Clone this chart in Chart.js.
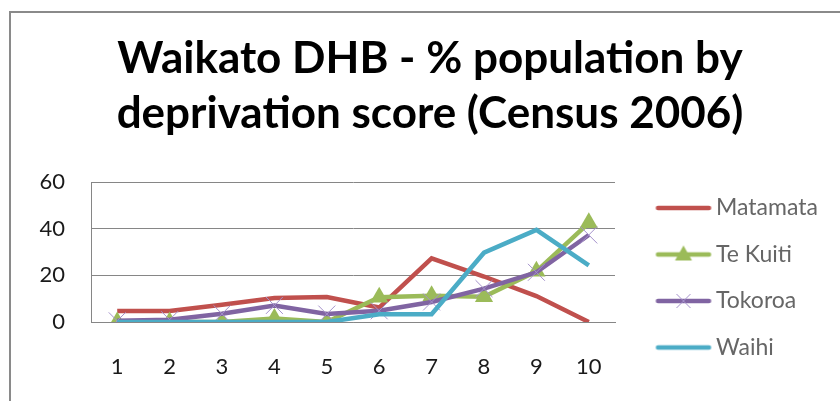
<!DOCTYPE html>
<html>
<head>
<meta charset="utf-8">
<script src="https://cdn.jsdelivr.net/npm/chart.js@4.4.1/dist/chart.umd.min.js"></script>
<style>
  html, body { margin: 0; padding: 0; background: #fff; }
  #wrap { position: relative; width: 840px; height: 401px; overflow: hidden; }
  #frame { position: absolute; left: 9px; top: 11px; width: 900px; height: 500px;
           border-left: 2px solid #8a8a8a; border-top: 2px solid #8a8a8a; }
  canvas { position: absolute; left: 0; top: 0; }
</style>
</head>
<body>
<div id="wrap">
  <div id="frame"></div>
  <canvas id="c" width="840" height="401"></canvas>
</div>
<script>
const categories = ['1','2','3','4','5','6','7','8','9','10'];
const matamata = [4.7, 4.7, 7.4, 10.3, 10.7, 6.2, 27.3, 19.5, 11.1, 0];
const teKuiti  = [0, 0, 0, 1.5, 0, 10.6, 11.3, 10.8, 21.7, 42.5];
const tokoroa  = [0.5, 1, 3.5, 7.1, 3.4, 4.8, 8.6, 14.3, 21.3, 37.3];
const waihi    = [0, 0, 0, 0, 0, 3.3, 3.3, 29.7, 39.5, 24.3];
const seriesNames = ['Matamata', 'Te Kuiti', 'Tokoroa', 'Waihi'];
const yTicks = [0, 20, 40, 60];
const titleLines = ['Waikato DHB - % population by', 'deprivation score (Census 2006)'];

const colors = ['#C0504D', '#9BBB59', '#8064A2', '#4BACC6'];
const crossColor = '#A491CB';
const FONT = 'Lato, "Liberation Sans", sans-serif';

// legend geometry
const LEG_FONT = 23, LEG_PAD = 23.5, LEG_W = 66, IMG_W = 82, IMG_H = 24;
const LINE_X0 = 25.5, LINE_X1 = 80.5;
const LEGEND_BOX_WIDTH = 225;

function legendImage(color, marker) {
  const c = document.createElement('canvas');
  c.width = IMG_W; c.height = IMG_H;
  const x = c.getContext('2d');
  const cy = IMG_H / 2, cx = (LINE_X0 + LINE_X1) / 2;
  x.strokeStyle = color; x.lineWidth = 4.5; x.lineCap = 'round';
  x.beginPath(); x.moveTo(LINE_X0 + 2, cy); x.lineTo(LINE_X1 - 2, cy); x.stroke();
  if (marker === 'triangle') {
    x.fillStyle = color;
    x.beginPath(); x.moveTo(cx, cy - 9); x.lineTo(cx + 8.5, cy + 6); x.lineTo(cx - 8.5, cy + 6); x.closePath(); x.fill();
  } else if (marker === 'cross') {
    x.strokeStyle = crossColor; x.lineWidth = 1; x.lineCap = 'butt';
    x.beginPath(); x.moveTo(cx - 7, cy - 7); x.lineTo(cx + 7, cy + 7); x.moveTo(cx + 7, cy - 7); x.lineTo(cx - 7, cy + 7); x.stroke();
  }
  return c;
}
const legendMarkers = [null, 'triangle', 'cross', null];

// fix the legend column width so the plot's right edge lands where wanted
const legendWidthPlugin = {
  id: 'legendWidth',
  beforeLayout(chart) {
    const lg = chart.legend;
    if (lg && !lg._fixedWidth) {
      const origFit = lg.fit;
      lg.fit = function () { origFit.call(this); this.width = LEGEND_BOX_WIDTH; };
      lg._fixedWidth = true;
    }
  }
};

const datasets = [
  { label: seriesNames[0], data: matamata, borderColor: colors[0], backgroundColor: colors[0],
    pointRadius: 0, order: 4 },
  { label: seriesNames[1], data: teKuiti, borderColor: colors[1], backgroundColor: colors[1],
    pointStyle: 'triangle', pointRadius: 10.5, pointBorderWidth: 0, pointBorderColor: colors[1], order: 3 },
  { label: seriesNames[2], data: tokoroa, borderColor: colors[2], backgroundColor: 'rgba(0,0,0,0)',
    pointStyle: 'crossRot', pointRadius: 12, pointBorderWidth: 1, pointBorderColor: crossColor, order: 2 },
  { label: seriesNames[3], data: waihi, borderColor: colors[3], backgroundColor: colors[3],
    pointRadius: 0, order: 1 }
];
datasets.forEach(d => { d.borderWidth = 4.5; d.tension = 0; d.fill = false; d.pointHoverRadius = d.pointRadius; });

new Chart(document.getElementById('c'), {
  type: 'line',
  data: { labels: categories, datasets },
  plugins: [legendWidthPlugin],
  options: {
    responsive: false,
    animation: false,
    layout: { padding: { left: 20, right: 0, top: 0, bottom: 0 } },
    plugins: {
      tooltip: { enabled: false },
      title: {
        display: true, text: titleLines, color: '#000',
        font: { family: FONT, size: 44, weight: 'bold', lineHeight: 1.25 },
        padding: { top: 31, bottom: 41 }
      },
      legend: {
        position: 'right',
        align: 'start',
        title: { display: true, text: ' ', font: { size: 10, lineHeight: 1 }, padding: { top: 163, bottom: 0 } },
        labels: {
          color: '#1a1a1a',
          font: { family: FONT, size: LEG_FONT },
          usePointStyle: true,
          pointStyleWidth: LEG_W,
          padding: LEG_PAD,
          generateLabels: (chart) => chart.data.datasets.map((d, i) => ({
            text: d.label,
            pointStyle: legendImage(colors[i], legendMarkers[i]),
            fillStyle: colors[i], strokeStyle: colors[i], lineWidth: 0,
            hidden: false, datasetIndex: i
          }))
        }
      }
    },
    scales: {
      x: {
        offset: true,
        grid: { display: false, drawTicks: false, offset: true },
        border: { display: true, color: '#868686', width: 1 },
        ticks: { color: '#1a1a1a', font: { family: FONT, size: 22 }, padding: 32, maxRotation: 0 },
        afterFit: (s) => { s.height = 79; }
      },
      y: {
        min: 0, max: 60,
        afterBuildTicks: (s) => { s.ticks = yTicks.map(v => ({ value: v })); },
        grid: { color: '#868686', lineWidth: 1, drawTicks: false },
        border: { display: true, color: '#868686', width: 1 },
        ticks: { color: '#1a1a1a', font: { family: FONT, size: 22 }, padding: 26 },
        afterFit: (s) => { s.width = 71; }
      }
    }
  }
});
</script>
</body>
</html>
